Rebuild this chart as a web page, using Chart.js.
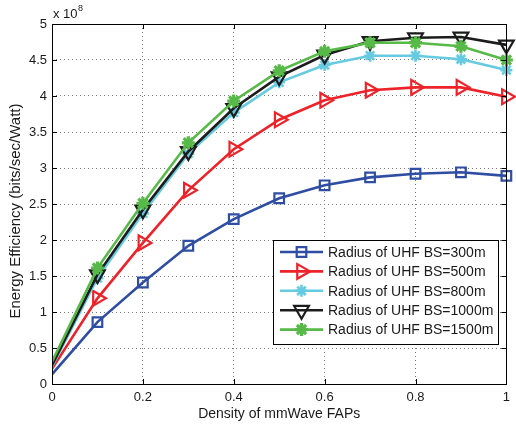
<!DOCTYPE html>
<html><head><meta charset="utf-8">
<script src="https://cdn.jsdelivr.net/npm/chart.js@4/dist/chart.umd.min.js"></script>
<style>html,body{margin:0;padding:0;background:#fff}#wrap{width:516px;height:427px}</style>
</head><body><div id="wrap"><canvas id="c" width="516" height="427"></canvas></div>
<script>
const density = [0, 0.1, 0.2, 0.3, 0.4, 0.5, 0.6, 0.7, 0.8, 0.9, 1.0];
const r300  = [0.135, 0.86, 1.41, 1.92, 2.29, 2.58, 2.76, 2.87, 2.92, 2.94, 2.89];
const r500  = [0.21, 1.19, 1.96, 2.69, 3.26, 3.67, 3.94, 4.08, 4.12, 4.12, 3.99];
const r800  = [0.24, 1.47, 2.37, 3.20, 3.77, 4.19, 4.43, 4.56, 4.56, 4.51, 4.36];
const r1000 = [0.26, 1.52, 2.42, 3.23, 3.83, 4.27, 4.57, 4.76, 4.81, 4.82, 4.71];
const r1500 = [0.31, 1.61, 2.51, 3.35, 3.93, 4.35, 4.62, 4.74, 4.74, 4.69, 4.50];
const seriesLabels = ['Radius of UHF BS=300m','Radius of UHF BS=500m','Radius of UHF BS=800m','Radius of UHF BS=1000m','Radius of UHF BS=1500m'];
const xTicks = [0, 0.2, 0.4, 0.6, 0.8, 1];
const yTicks = [0, 0.5, 1, 1.5, 2, 2.5, 3, 3.5, 4, 4.5, 5];
const xTitle = 'Density of mmWave FAPs';
const yTitle = 'Energy Efficiency (bits/sec/Watt)';
const exponentLabel = '8';

const FONT = '"Liberation Sans", Arial, sans-serif';
const styles = [
  {color:'#2f4ea3', marker:'square', r:6},
  {color:'#ee2229', marker:'triRight', r:8.5},
  {color:'#66cbe0', marker:'star', r:6},
  {color:'#1c1c1c', marker:'triDown', r:8.5},
  {color:'#57b947', marker:'starBold', r:6.5}
];
const values = [r300, r500, r800, r1000, r1500];

function drawMarker(ctx, type, x, y, r, color) {
  ctx.save();
  ctx.strokeStyle = color; ctx.fillStyle = color; ctx.lineWidth = 2.2; ctx.setLineDash([]);
  ctx.beginPath();
  if (type === 'square') {
    const h = r * 0.8;
    ctx.rect(x - h, y - h, 2*h, 2*h); ctx.stroke();
  } else if (type === 'triRight') {
    ctx.moveTo(x + r, y);
    ctx.lineTo(x - r*0.5, y - r*0.866);
    ctx.lineTo(x - r*0.5, y + r*0.866);
    ctx.closePath(); ctx.stroke();
  } else if (type === 'triDown') {
    ctx.moveTo(x, y + r);
    ctx.lineTo(x - r*0.866, y - r*0.5);
    ctx.lineTo(x + r*0.866, y - r*0.5);
    ctx.closePath(); ctx.stroke();
  } else {
    ctx.lineWidth = type === 'starBold' ? 3.2 : 2.6;
    for (let k = 0; k < 4; k++) {
      const a = k * Math.PI / 4;
      ctx.moveTo(x - r*Math.cos(a), y - r*Math.sin(a));
      ctx.lineTo(x + r*Math.cos(a), y + r*Math.sin(a));
    }
    ctx.stroke();
  }
  ctx.restore();
}

const datasets = values.map((v, i) => ({
  label: seriesLabels[i],
  data: v.map((y, j) => ({x: density[j], y: y})),
  borderColor: styles[i].color,
  backgroundColor: styles[i].color,
  borderWidth: 2.6,
  pointRadius: 0,
  pointHoverRadius: 0,
  tension: 0,
  order: 4 - i
}));

const framePlugin = {
  id: 'frame',
  afterDatasetDraw(chart, args) {
    const i = args.index;
    const ctx = chart.ctx, xs = chart.scales.x, ys = chart.scales.y;
    chart.data.datasets[i].data.forEach((p, j) => {
      if (j === 0) return;
      drawMarker(ctx, styles[i].marker, xs.getPixelForValue(p.x), ys.getPixelForValue(p.y), styles[i].r, styles[i].color);
    });
  },
  afterDatasetsDraw(chart) {
    const ctx = chart.ctx, a = chart.chartArea;
    const xs = chart.scales.x, ys = chart.scales.y;
    ctx.save();
    ctx.strokeStyle = '#000'; ctx.lineWidth = 1; ctx.setLineDash([]);
    ctx.strokeRect(Math.round(a.left)+0.5, Math.round(a.top)+0.5, Math.round(a.right-a.left), Math.round(a.bottom-a.top));
    const tl = 5;
    ctx.beginPath();
    xTicks.forEach(t => {
      const px = Math.round(xs.getPixelForValue(t)) + 0.5;
      ctx.moveTo(px, a.bottom); ctx.lineTo(px, a.bottom - tl);
      ctx.moveTo(px, a.top); ctx.lineTo(px, a.top + tl);
    });
    yTicks.forEach(t => {
      const py = Math.round(ys.getPixelForValue(t)) + 0.5;
      ctx.moveTo(a.left, py); ctx.lineTo(a.left + tl, py);
      ctx.moveTo(a.right, py); ctx.lineTo(a.right - tl, py);
    });
    ctx.stroke();
    // exponent label
    ctx.fillStyle = '#1a1a1a';
    ctx.font = '13px ' + FONT;
    ctx.textBaseline = 'alphabetic';
    ctx.textAlign = 'left';
    ctx.fillText('x 10', a.left + 1, a.top - 6);
    const w = ctx.measureText('x 10').width;
    ctx.font = '9px ' + FONT;
    ctx.fillText(exponentLabel, a.left + 1 + w + 0.5, a.top - 13);
    // axis titles
    ctx.font = '14px ' + FONT;
    ctx.textAlign = 'center'; ctx.textBaseline = 'middle';
    ctx.fillText(xTitle, (a.left + a.right) / 2, 414);
    ctx.save();
    ctx.translate(16, 211);
    ctx.rotate(-Math.PI / 2);
    ctx.font = '15px ' + FONT;
    ctx.fillText(yTitle, 0, 0);
    ctx.restore();
    // legend
    const lx = 273, ly = 240, lw = 225, lh = 104;
    ctx.fillStyle = '#fff';
    ctx.fillRect(lx, ly, lw, lh);
    ctx.strokeStyle = '#000'; ctx.lineWidth = 1;
    ctx.strokeRect(lx + 0.5, ly + 0.5, lw, lh);
    ctx.font = '14px ' + FONT;
    ctx.textAlign = 'left';
    ctx.textBaseline = 'middle';
    chart.data.datasets.forEach((ds, i) => {
      const y = 252 + i * 19.4;
      ctx.strokeStyle = styles[i].color; ctx.lineWidth = 2.6;
      ctx.beginPath(); ctx.moveTo(280, y); ctx.lineTo(323, y); ctx.stroke();
      drawMarker(ctx, styles[i].marker, 301.5, y, styles[i].r, styles[i].color);
      ctx.fillStyle = '#1a1a1a';
      ctx.fillText(ds.label, 328, y + 1);
    });
    ctx.restore();
  }
};

new Chart(document.getElementById('c'), {
  type: 'line',
  data: { datasets },
  options: {
    responsive: false,
    animation: false,
    events: [],
    layout: { padding: { top: 24, right: 7, left: 0, bottom: 0 } },
    plugins: { legend: { display: false }, tooltip: { enabled: false } },
    scales: {
      x: {
        type: 'linear', min: 0, max: 1,
        afterBuildTicks: s => { s.ticks = xTicks.map(v => ({value: v})); },
        afterFit: s => { s.height = 43; },
        ticks: { color: '#1a1a1a', font: { size: 13, family: FONT }, padding: 6, maxRotation: 0,
                 callback: v => String(v) },
        grid: { color: '#7a7a7a', lineWidth: 1, drawTicks: false },
        border: { display: false, dash: [1, 3] },
        title: { display: false }
      },
      y: {
        type: 'linear', min: 0, max: 5,
        afterBuildTicks: s => { s.ticks = yTicks.map(v => ({value: v})); },
        afterFit: s => { s.width = 52; },
        ticks: { color: '#1a1a1a', font: { size: 13, family: FONT }, padding: 5,
                 callback: v => String(v) },
        grid: { color: '#7a7a7a', lineWidth: 1, drawTicks: false },
        border: { display: false, dash: [1, 3] },
        title: { display: false }
      }
    }
  },
  plugins: [framePlugin]
});
</script></body></html>
